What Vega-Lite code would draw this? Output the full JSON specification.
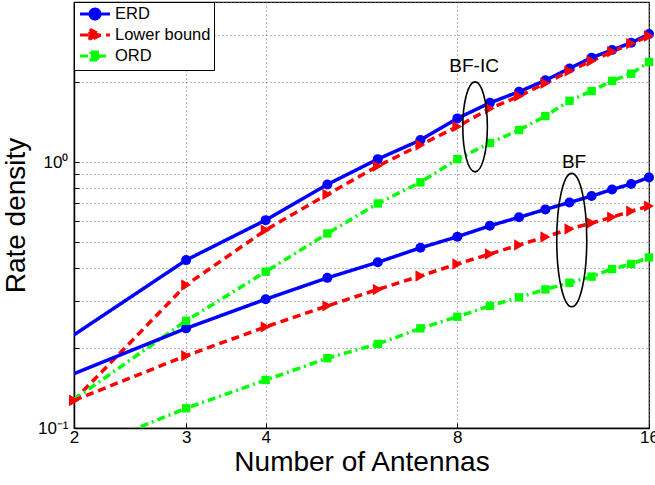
{
  "$schema": "https://vega.github.io/schema/vega-lite/v6.json",
  "width": 575,
  "height": 426,
  "autosize": "none",
  "padding": {"left": 74, "top": 2, "right": 6, "bottom": 57},
  "background": "white",
  "config": {
    "view": {"stroke": "black", "strokeWidth": 1.2},
    "font": "Liberation Sans",
    "axis": {
      "domainColor": "black", "domainWidth": 1.5,
      "labelColor": "black", "titleColor": "black",
      "labelFont": "Liberation Sans", "titleFont": "Liberation Sans",
      "titleFontWeight": "normal",
      "gridColor": "#707070", "gridDash": [1, 3], "gridOpacity": 1, "gridWidth": 1,
      "ticks": true, "tickSize": -5, "tickColor": "black", "tickWidth": 1,
      "labelOverlap": false, "labelFlush": false
    },
    "legend": {
      "title": null, "orient": "top-left", "offset": 0,
      "strokeColor": "black", "fillColor": "white",
      "padding": 3, "symbolSize": 200, "symbolStrokeWidth": 3,
      "symbolOffset": 9, "labelOffset": 11,
      "labelFont": "Liberation Sans", "labelFontSize": 16.5, "labelColor": "black",
      "rowPadding": -2, "symbolOpacity": 1
    }
  },
  "datasets": {
    "curves": [
      {"N": 2, "value": 0.224, "series": "ERD", "group": "BF-IC"},
      {"N": 3, "value": 0.428, "series": "ERD", "group": "BF-IC"},
      {"N": 4, "value": 0.605, "series": "ERD", "group": "BF-IC"},
      {"N": 5, "value": 0.824, "series": "ERD", "group": "BF-IC"},
      {"N": 6, "value": 1.026, "series": "ERD", "group": "BF-IC"},
      {"N": 7, "value": 1.21, "series": "ERD", "group": "BF-IC"},
      {"N": 8, "value": 1.46, "series": "ERD", "group": "BF-IC"},
      {"N": 9, "value": 1.67, "series": "ERD", "group": "BF-IC"},
      {"N": 10, "value": 1.84, "series": "ERD", "group": "BF-IC"},
      {"N": 11, "value": 2.03, "series": "ERD", "group": "BF-IC"},
      {"N": 12, "value": 2.25, "series": "ERD", "group": "BF-IC"},
      {"N": 13, "value": 2.47, "series": "ERD", "group": "BF-IC"},
      {"N": 14, "value": 2.64, "series": "ERD", "group": "BF-IC"},
      {"N": 15, "value": 2.81, "series": "ERD", "group": "BF-IC"},
      {"N": 16, "value": 3.03, "series": "ERD", "group": "BF-IC"},
      {"N": 2, "value": 0.127, "series": "Lower bound", "group": "BF-IC"},
      {"N": 3, "value": 0.345, "series": "Lower bound", "group": "BF-IC"},
      {"N": 4, "value": 0.555, "series": "Lower bound", "group": "BF-IC"},
      {"N": 5, "value": 0.756, "series": "Lower bound", "group": "BF-IC"},
      {"N": 6, "value": 0.966, "series": "Lower bound", "group": "BF-IC"},
      {"N": 7, "value": 1.16, "series": "Lower bound", "group": "BF-IC"},
      {"N": 8, "value": 1.36, "series": "Lower bound", "group": "BF-IC"},
      {"N": 9, "value": 1.59, "series": "Lower bound", "group": "BF-IC"},
      {"N": 10, "value": 1.77, "series": "Lower bound", "group": "BF-IC"},
      {"N": 11, "value": 1.98, "series": "Lower bound", "group": "BF-IC"},
      {"N": 12, "value": 2.2, "series": "Lower bound", "group": "BF-IC"},
      {"N": 13, "value": 2.4, "series": "Lower bound", "group": "BF-IC"},
      {"N": 14, "value": 2.6, "series": "Lower bound", "group": "BF-IC"},
      {"N": 15, "value": 2.79, "series": "Lower bound", "group": "BF-IC"},
      {"N": 16, "value": 2.98, "series": "Lower bound", "group": "BF-IC"},
      {"N": 2, "value": 0.128, "series": "ORD", "group": "BF-IC"},
      {"N": 3, "value": 0.253, "series": "ORD", "group": "BF-IC"},
      {"N": 4, "value": 0.387, "series": "ORD", "group": "BF-IC"},
      {"N": 5, "value": 0.539, "series": "ORD", "group": "BF-IC"},
      {"N": 6, "value": 0.699, "series": "ORD", "group": "BF-IC"},
      {"N": 7, "value": 0.839, "series": "ORD", "group": "BF-IC"},
      {"N": 8, "value": 1.026, "series": "ORD", "group": "BF-IC"},
      {"N": 9, "value": 1.18, "series": "ORD", "group": "BF-IC"},
      {"N": 10, "value": 1.32, "series": "ORD", "group": "BF-IC"},
      {"N": 11, "value": 1.49, "series": "ORD", "group": "BF-IC"},
      {"N": 12, "value": 1.7, "series": "ORD", "group": "BF-IC"},
      {"N": 13, "value": 1.85, "series": "ORD", "group": "BF-IC"},
      {"N": 14, "value": 2.02, "series": "ORD", "group": "BF-IC"},
      {"N": 15, "value": 2.15, "series": "ORD", "group": "BF-IC"},
      {"N": 16, "value": 2.38, "series": "ORD", "group": "BF-IC"},
      {"N": 2, "value": 0.16, "series": "ERD", "group": "BF"},
      {"N": 3, "value": 0.237, "series": "ERD", "group": "BF"},
      {"N": 4, "value": 0.305, "series": "ERD", "group": "BF"},
      {"N": 5, "value": 0.367, "series": "ERD", "group": "BF"},
      {"N": 6, "value": 0.42, "series": "ERD", "group": "BF"},
      {"N": 7, "value": 0.476, "series": "ERD", "group": "BF"},
      {"N": 8, "value": 0.524, "series": "ERD", "group": "BF"},
      {"N": 9, "value": 0.576, "series": "ERD", "group": "BF"},
      {"N": 10, "value": 0.62, "series": "ERD", "group": "BF"},
      {"N": 11, "value": 0.664, "series": "ERD", "group": "BF"},
      {"N": 12, "value": 0.705, "series": "ERD", "group": "BF"},
      {"N": 13, "value": 0.745, "series": "ERD", "group": "BF"},
      {"N": 14, "value": 0.789, "series": "ERD", "group": "BF"},
      {"N": 15, "value": 0.827, "series": "ERD", "group": "BF"},
      {"N": 16, "value": 0.876, "series": "ERD", "group": "BF"},
      {"N": 2, "value": 0.127, "series": "Lower bound", "group": "BF"},
      {"N": 3, "value": 0.187, "series": "Lower bound", "group": "BF"},
      {"N": 4, "value": 0.24, "series": "Lower bound", "group": "BF"},
      {"N": 5, "value": 0.288, "series": "Lower bound", "group": "BF"},
      {"N": 6, "value": 0.332, "series": "Lower bound", "group": "BF"},
      {"N": 7, "value": 0.373, "series": "Lower bound", "group": "BF"},
      {"N": 8, "value": 0.414, "series": "Lower bound", "group": "BF"},
      {"N": 9, "value": 0.451, "series": "Lower bound", "group": "BF"},
      {"N": 10, "value": 0.488, "series": "Lower bound", "group": "BF"},
      {"N": 11, "value": 0.523, "series": "Lower bound", "group": "BF"},
      {"N": 12, "value": 0.56, "series": "Lower bound", "group": "BF"},
      {"N": 13, "value": 0.59, "series": "Lower bound", "group": "BF"},
      {"N": 14, "value": 0.621, "series": "Lower bound", "group": "BF"},
      {"N": 15, "value": 0.654, "series": "Lower bound", "group": "BF"},
      {"N": 16, "value": 0.683, "series": "Lower bound", "group": "BF"},
      {"N": 2, "value": 0.08, "series": "ORD", "group": "BF"},
      {"N": 3, "value": 0.1186, "series": "ORD", "group": "BF"},
      {"N": 4, "value": 0.1515, "series": "ORD", "group": "BF"},
      {"N": 5, "value": 0.183, "series": "ORD", "group": "BF"},
      {"N": 6, "value": 0.207, "series": "ORD", "group": "BF"},
      {"N": 7, "value": 0.237, "series": "ORD", "group": "BF"},
      {"N": 8, "value": 0.262, "series": "ORD", "group": "BF"},
      {"N": 9, "value": 0.288, "series": "ORD", "group": "BF"},
      {"N": 10, "value": 0.31, "series": "ORD", "group": "BF"},
      {"N": 11, "value": 0.332, "series": "ORD", "group": "BF"},
      {"N": 12, "value": 0.352, "series": "ORD", "group": "BF"},
      {"N": 13, "value": 0.371, "series": "ORD", "group": "BF"},
      {"N": 14, "value": 0.396, "series": "ORD", "group": "BF"},
      {"N": 15, "value": 0.414, "series": "ORD", "group": "BF"},
      {"N": 16, "value": 0.438, "series": "ORD", "group": "BF"}
    ],
    "ellipses": [
      {"N": 8.53, "value": 1.357, "group": "BF-IC"},
      {"N": 12.1, "value": 0.509, "group": "BF"}
    ],
    "labels": [
      {"N": 8.5, "value": 2.296, "label": "BF-IC"},
      {"N": 12.2, "value": 1.003, "label": "BF"}
    ]
  },
  "encoding": {
    "x": {
      "field": "N", "type": "quantitative",
      "scale": {"type": "log", "base": 2, "domain": [2, 16], "nice": false},
      "axis": {
        "values": [2, 3, 4, 8, 16], "format": "d",
        "title": "Number of Antennas",
        "labelFontSize": 17, "titleFontSize": 28,
        "labelPadding": 6, "titlePadding": 3
      }
    },
    "y": {
      "field": "value", "type": "quantitative",
      "scale": {"type": "log", "domain": [0.1, 4], "nice": false},
      "axis": {
        "values": [0.1, 0.2, 0.3, 0.4, 0.5, 0.6, 0.7, 0.8, 0.9, 1, 2, 3, 4],
        "labelExpr": "datum.value == 1 ? '10⁰' : (datum.value == 0.1 ? '10⁻¹' : '')",
        "title": "Rate density",
        "labelFontSize": 17, "titleFontSize": 28,
        "labelPadding": 11, "titlePadding": 7
      }
    }
  },
  "layer": [
    {
      "data": {"name": "curves"},
      "mark": {"type": "line", "strokeWidth": 3.5, "clip": true},
      "encoding": {
        "color": {
          "field": "series", "type": "nominal",
          "scale": {"domain": ["ERD", "Lower bound", "ORD"], "range": ["#0000ff", "#ff0000", "#00ff00"]},
          "legend": {"title": null}
        },
        "strokeDash": {
          "field": "series", "type": "nominal",
          "scale": {"domain": ["ERD", "Lower bound", "ORD"], "range": [[1, 0], [8, 5], [8, 4, 2, 4]]},
          "legend": {"title": null}
        },
        "detail": {"field": "group", "type": "nominal"}
      }
    },
    {
      "data": {"name": "curves"},
      "transform": [{"filter": "datum.N < 0"}],
      "mark": {"type": "point", "filled": true, "opacity": 1},
      "encoding": {
        "color": {"field": "series", "type": "nominal", "legend": {"title": null}},
        "strokeDash": {"field": "series", "type": "nominal", "legend": {"title": null}},
        "shape": {
          "field": "series", "type": "nominal",
          "scale": {"domain": ["ERD", "Lower bound", "ORD"], "range": [
            "M-2.12,0L2.12,0M0.707,0C0.707,0.39 0.39,0.707 0,0.707C-0.39,0.707 -0.707,0.39 -0.707,0C-0.707,-0.39 -0.39,-0.707 0,-0.707C0.39,-0.707 0.707,-0.39 0.707,0Z",
            "M-2.12,0L2.12,0M-0.74,-0.8L0.85,0L-0.74,0.8Z",
            "M-2.12,0L2.12,0M-0.566,-0.566L0.566,-0.566L0.566,0.566L-0.566,0.566Z"
          ]},
          "legend": {"title": null}
        }
      }
    },
    {
      "data": {"name": "curves"},
      "transform": [{"filter": "datum.series === 'ERD' && datum.N > 2"}],
      "mark": {"type": "point", "filled": true, "opacity": 1, "shape": "circle", "size": 100},
      "encoding": {"color": {"field": "series", "type": "nominal", "legend": null}}
    },
    {
      "data": {"name": "curves"},
      "transform": [{"filter": "datum.series === 'Lower bound'"}],
      "mark": {"type": "point", "filled": true, "opacity": 1, "shape": "triangle-right", "size": 130},
      "encoding": {"color": {"field": "series", "type": "nominal", "legend": null}}
    },
    {
      "data": {"name": "curves"},
      "transform": [{"filter": "datum.series === 'ORD' && datum.N > 2"}],
      "mark": {"type": "point", "filled": true, "opacity": 1, "shape": "square", "size": 70},
      "encoding": {"color": {"field": "series", "type": "nominal", "legend": null}}
    },
    {
      "data": {"name": "ellipses"},
      "transform": [{"filter": "datum.group === 'BF-IC'"}],
      "mark": {
        "type": "point", "filled": false, "opacity": 1, "color": "black", "strokeWidth": 1.6, "size": 8100,
        "shape": "M0.273,0C0.273,0.552 0.151,1 0,1C-0.151,1 -0.273,0.552 -0.273,0C-0.273,-0.552 -0.151,-1 0,-1C0.151,-1 0.273,-0.552 0.273,0Z"
      }
    },
    {
      "data": {"name": "ellipses"},
      "transform": [{"filter": "datum.group === 'BF'"}],
      "mark": {
        "type": "point", "filled": false, "opacity": 1, "color": "black", "strokeWidth": 1.6, "size": 17800,
        "shape": "M0.225,0C0.225,0.552 0.124,1 0,1C-0.124,1 -0.225,0.552 -0.225,0C-0.225,-0.552 -0.124,-1 0,-1C0.124,-1 0.225,-0.552 0.225,0Z"
      }
    },
    {
      "data": {"name": "labels"},
      "mark": {"type": "text", "fontSize": 19, "font": "Liberation Sans", "color": "black", "align": "center", "baseline": "middle"},
      "encoding": {"text": {"field": "label", "type": "nominal"}}
    }
  ]
}
